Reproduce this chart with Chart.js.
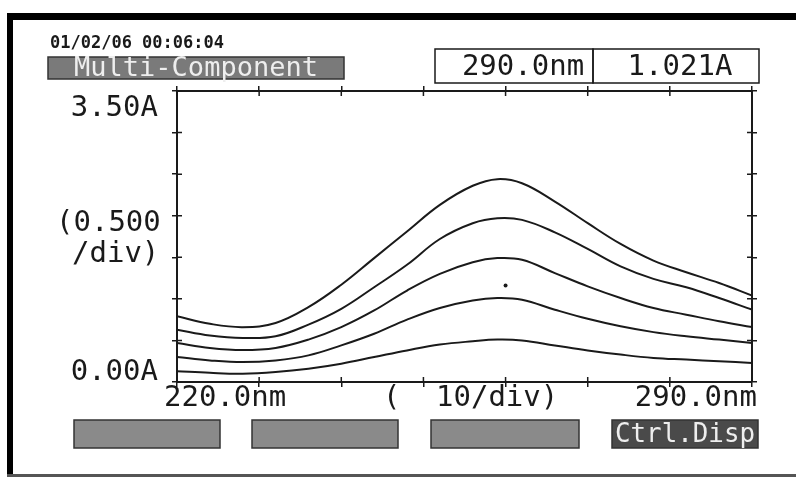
<!DOCTYPE html>
<html>
<head>
<meta charset="utf-8">
<script src="https://cdn.jsdelivr.net/npm/chart.js@4/dist/chart.umd.min.js"></script>
<style>
  html, body { margin: 0; padding: 0; background: #fff; }
  canvas { display: block; }
</style>
</head>
<body>
<canvas id="myChart" width="796" height="477"></canvas>
<script>
var wavelengths = [220, 224, 228, 232, 236, 240, 244, 248, 252, 256, 259, 262, 266, 270, 274, 278, 282, 286, 290];
// absorbance (A) for the five traces, top to bottom
var trace1 = [0.79, 0.70, 0.66, 0.71, 0.90, 1.17, 1.49, 1.81, 2.13, 2.36, 2.44, 2.39, 2.17, 1.91, 1.66, 1.46, 1.32, 1.19, 1.04];
var trace2 = [0.63, 0.56, 0.53, 0.55, 0.69, 0.88, 1.14, 1.41, 1.72, 1.91, 1.97, 1.95, 1.80, 1.60, 1.39, 1.24, 1.14, 1.01, 0.87];
var trace3 = [0.47, 0.41, 0.385, 0.41, 0.51, 0.66, 0.86, 1.10, 1.30, 1.44, 1.49, 1.47, 1.31, 1.15, 1.01, 0.89, 0.81, 0.73, 0.66];
var trace4 = [0.30, 0.26, 0.24, 0.26, 0.32, 0.44, 0.58, 0.75, 0.89, 0.98, 1.01, 0.99, 0.87, 0.76, 0.67, 0.60, 0.55, 0.51, 0.47];
var trace5 = [0.13, 0.11, 0.10, 0.12, 0.16, 0.22, 0.30, 0.38, 0.45, 0.49, 0.51, 0.50, 0.44, 0.38, 0.33, 0.29, 0.27, 0.25, 0.23];
// stray dot under the third trace
var dotNm = [260];
var dotA = [1.16];

// axis range
var xMin = 220, xMax = 290, xStep = 10;
var yMin = 0, yMax = 3.5, yStep = 0.5;

// header / label texts
var stampText = "01/02/06 00:06:04";
var modeText = "Multi-Component";
var cursorNm = "290.0nm";
var cursorAbs = "1.021A";
var yTopLabel = "3.50A";
var yBottomLabel = "0.00A";
var yDivLabel = ["(0.500", "/div)"];
var xLeftLabel = "220.0nm";
var xRightLabel = "290.0nm";
var xDivLabel = ["(", "10/div)"];
var buttonLabels = ["", "", "", "Ctrl.Disp"];

var INK = '#1a1a1a';
var MONO = '"DejaVu Sans Mono", "Liberation Mono", monospace';

function pts(ys) {
    return wavelengths.map(function (x, i) { return { x: x, y: ys[i] }; });
}

function traceSet(ys) {
    return {
        data: pts(ys),
        borderColor: INK,
        borderWidth: 2,
        pointRadius: 0,
        fill: false,
        tension: 0.4
    };
}

// crossing ticks + all the printer text
var printoutPlugin = {
    id: 'printout',
    beforeDraw: function (chart) {
        var c = chart.ctx;
        c.save();
        c.fillStyle = '#fff';
        c.fillRect(0, 0, 796, 477);
        // scan frame
        c.fillStyle = '#000';
        c.fillRect(7, 13, 789, 7);
        c.fillRect(7, 13, 6, 464);
        c.fillStyle = '#555';
        c.fillRect(7, 474, 789, 3);
        c.restore();
    },
    afterDraw: function (chart) {
        var c = chart.ctx;
        var a = chart.chartArea;
        var xs = chart.scales.x, ys = chart.scales.y;
        c.save();
        c.strokeStyle = INK;
        c.lineWidth = 1.5;
        // inward half of the tick marks
        c.beginPath();
        for (var v = xMin; v <= xMax; v += xStep) {
            var px = xs.getPixelForValue(v);
            c.moveTo(px, a.bottom); c.lineTo(px, a.bottom - 5);
            c.moveTo(px, a.top); c.lineTo(px, a.top + 5);
        }
        for (var w = yMin; w <= yMax + 1e-9; w += yStep) {
            var py = ys.getPixelForValue(w);
            c.moveTo(a.left, py); c.lineTo(a.left + 5, py);
            c.moveTo(a.right, py); c.lineTo(a.right - 5, py);
        }
        c.stroke();

        c.fillStyle = INK;
        c.textBaseline = 'middle';

        // time stamp
        c.font = 'bold 17px ' + MONO;
        c.textAlign = 'left';
        c.fillText(stampText, 50, 44);

        // mode banner
        c.fillStyle = '#7a7a7a';
        c.fillRect(48, 57, 296, 22);
        c.strokeStyle = '#333';
        c.lineWidth = 1.5;
        c.strokeRect(48, 57, 296, 22);
        c.fillStyle = '#eee';
        c.font = '27px ' + MONO;
        c.textAlign = 'center';
        c.fillText(modeText, 196, 69, 290);

        // cursor readout boxes
        c.strokeStyle = INK;
        c.lineWidth = 1.5;
        c.strokeRect(435, 49, 158, 34);
        c.strokeRect(593, 49, 166, 34);
        c.fillStyle = INK;
        c.font = '29px ' + MONO;
        c.fillText(cursorNm, 523, 67);
        c.fillText(cursorAbs, 680, 67);

        // y labels
        c.textAlign = 'right';
        c.fillText(yTopLabel, 158, 108);
        c.fillText(yBottomLabel, 158, 372);
        c.textAlign = 'left';
        c.fillText(yDivLabel[0], 56, 223);
        c.fillText(yDivLabel[1], 72, 254);

        // x labels
        c.textAlign = 'left';
        c.fillText(xLeftLabel, 164, 398);
        c.fillText(xDivLabel[0], 383, 398);
        c.fillText(xDivLabel[1], 436, 398);
        c.textAlign = 'right';
        c.fillText(xRightLabel, 757, 398);

        // soft-key buttons
        var bx = [74, 252, 431, 612];
        var bw = [146, 146, 148, 146];
        for (var i = 0; i < bx.length; i++) {
            c.fillStyle = i === 3 ? '#4a4a4a' : '#8a8a8a';
            c.fillRect(bx[i], 420, bw[i], 28);
            c.strokeStyle = '#333';
            c.strokeRect(bx[i], 420, bw[i], 28);
            if (buttonLabels[i]) {
                c.fillStyle = '#eee';
                c.font = '26px ' + MONO;
                c.textAlign = 'center';
                c.fillText(buttonLabels[i], bx[i] + bw[i] / 2, 435, bw[i] - 6);
            }
        }
        c.restore();
    }
};

function axis(pos, min, max, step) {
    return {
        type: 'linear',
        position: pos,
        min: min,
        max: max,
        ticks: { display: false, stepSize: step },
        grid: { drawOnChartArea: false, drawTicks: true, tickLength: 5, color: INK, lineWidth: 1.5 },
        border: { display: true, color: INK, width: 2 }
    };
}

var ctx = document.getElementById('myChart').getContext('2d');
var chart = new Chart(ctx, {
    type: 'line',
    data: {
        datasets: [
            traceSet(trace1),
            traceSet(trace2),
            traceSet(trace3),
            traceSet(trace4),
            traceSet(trace5),
            {
                type: 'scatter',
                data: dotNm.map(function (x, i) { return { x: x, y: dotA[i] }; }),
                pointRadius: 2,
                pointBackgroundColor: INK,
                pointBorderWidth: 0
            }
        ]
    },
    options: {
        responsive: false,
        animation: false,
        layout: { padding: { left: 172, top: 86, right: 39, bottom: 90 } },
        plugins: { legend: { display: false }, tooltip: { enabled: false } },
        scales: {
            x: axis('bottom', xMin, xMax, xStep),
            x2: axis('top', xMin, xMax, xStep),
            y: axis('left', yMin, yMax, yStep),
            y2: axis('right', yMin, yMax, yStep)
        }
    },
    plugins: [printoutPlugin]
});
</script>
</body>
</html>
